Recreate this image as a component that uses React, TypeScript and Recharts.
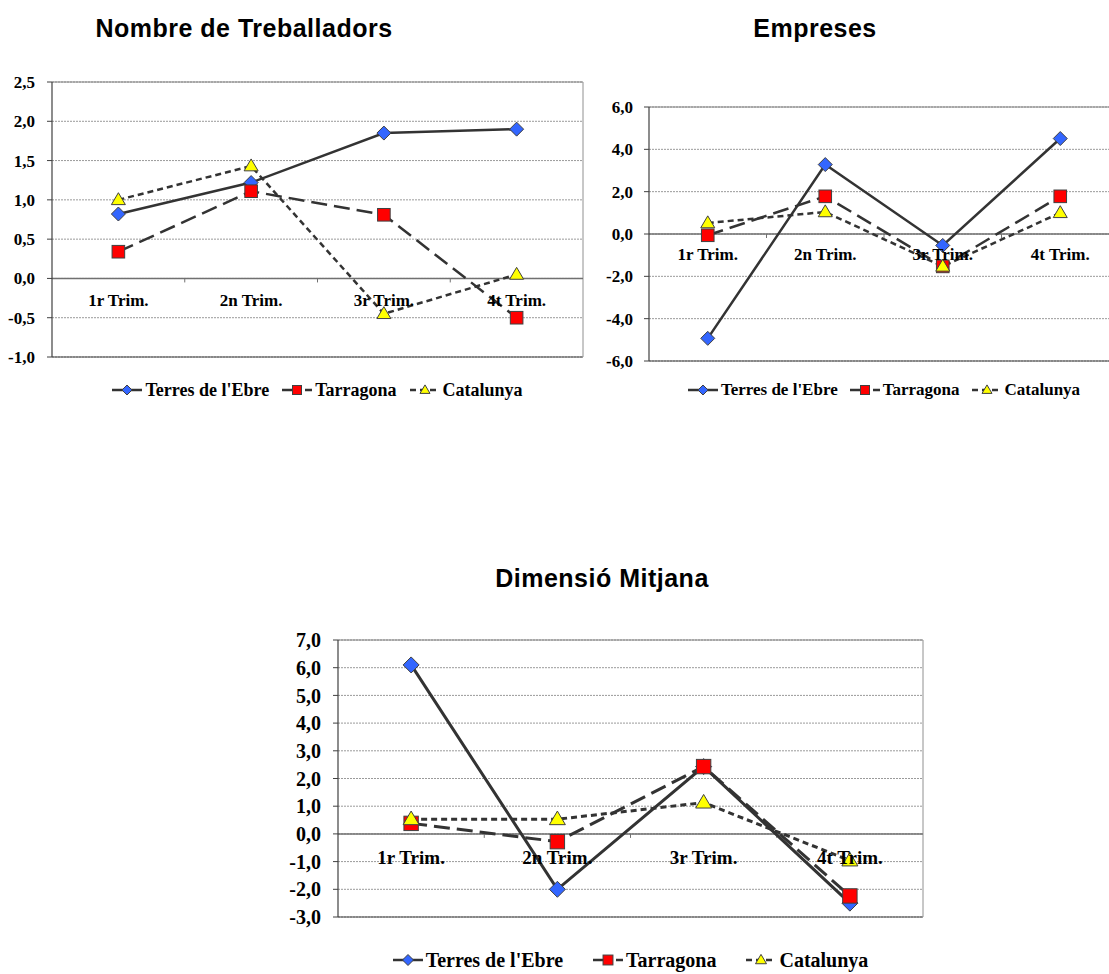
import React from 'react';
import { LineChart, Line, XAxis, YAxis, CartesianGrid, ReferenceLine, LabelList } from 'recharts';

const quarters = ['1r Trim.', '2n Trim.', '3r Trim.', '4t Trim.'];
const seriesNames = ["Terres de l'Ebre", 'Tarragona', 'Catalunya'];

const treballadorsTerres = [0.82, 1.22, 1.85, 1.9];
const treballadorsTarragona = [0.34, 1.11, 0.81, -0.5];
const treballadorsCatalunya = [1.0, 1.43, -0.45, 0.05];
const treballadorsTicks = [-1, -0.5, 0, 0.5, 1, 1.5, 2, 2.5];

const empresesTerres = [-4.93, 3.28, -0.54, 4.51];
const empresesTarragona = [-0.06, 1.78, -1.53, 1.78];
const empresesCatalunya = [0.52, 1.04, -1.53, 1.0];
const empresesTicks = [-6, -4, -2, 0, 2, 4, 6];

const dimensioTerres = [6.1, -2.0, 2.43, -2.5];
const dimensioTarragona = [0.38, -0.28, 2.43, -2.24];
const dimensioCatalunya = [0.53, 0.53, 1.13, -0.96];
const dimensioTicks = [-3, -2, -1, 0, 1, 2, 3, 4, 5, 6, 7];

const SERIF = "'Liberation Serif', 'Times New Roman', serif";
const SANS = "'Liberation Sans', Arial, sans-serif";
const LINE_COLOR = '#333333';
const MARK_STROKE = '#404040';

type Kind = 'diamond' | 'square' | 'triangle';

function Marker({ kind, cx, cy, s }: { kind: Kind; cx: number; cy: number; s: number }) {
  if (kind === 'diamond') {
    const r = s / 2;
    return (
      <polygon
        points={`${cx},${cy - r} ${cx + r},${cy} ${cx},${cy + r} ${cx - r},${cy}`}
        fill="#3366FF"
        stroke={MARK_STROKE}
        strokeWidth={1}
      />
    );
  }
  if (kind === 'square') {
    const h = s * 0.9;
    return <rect x={cx - h / 2} y={cy - h / 2} width={h} height={h} fill="#FF0000" stroke={MARK_STROKE} strokeWidth={1} />;
  }
  const w = s;
  const h = s * 0.85;
  return (
    <polygon
      points={`${cx},${cy - h * 0.6} ${cx + w / 2},${cy + h * 0.4} ${cx - w / 2},${cy + h * 0.4}`}
      fill="#FFFF00"
      stroke={MARK_STROKE}
      strokeWidth={1}
    />
  );
}

const makeDot = (kind: Kind, s: number) => (props: any) => {
  const { cx, cy, index } = props;
  if (cx == null || cy == null) return <g key={`${kind}-${index}`} />;
  return (
    <g key={`${kind}-${index}`}>
      <Marker kind={kind} cx={cx} cy={cy} s={s} />
    </g>
  );
};

const styles: { kind: Kind; dash?: string }[] = [
  { kind: 'diamond' },
  { kind: 'square', dash: '16 7' },
  { kind: 'triangle', dash: '6 4' },
];

function LegendRow({ left, top, width, fontSize, gap, markSize }: any) {
  return (
    <div
      style={{
        position: 'absolute',
        left,
        top,
        width,
        display: 'flex',
        justifyContent: 'center',
        alignItems: 'center',
        fontFamily: SERIF,
        fontWeight: 'bold',
        fontSize,
        color: '#000',
        whiteSpace: 'nowrap',
        lineHeight: 1,
      }}
    >
      {seriesNames.map((n, i) => (
        <div key={n} style={{ display: 'flex', alignItems: 'center', marginLeft: i === 0 ? 0 : gap }}>
          <svg width={30} height={16} style={{ display: 'block' }}>
            <line x1={0} y1={8} x2={30} y2={8} stroke={LINE_COLOR} strokeWidth={2.5} strokeDasharray={styles[i].dash} />
            <Marker kind={styles[i].kind} cx={15} cy={8} s={markSize} />
          </svg>
          <span style={{ marginLeft: 3 }}>{n}</span>
        </div>
      ))}
    </div>
  );
}

const fmt = (v: number) => v.toFixed(1).replace('.', ',');

function Panel(p: any) {
  const data = quarters.map((q, i) => ({
    q,
    x: i + 0.5,
    zero: 0,
    terres: p.a[i],
    tarragona: p.b[i],
    catalunya: p.c[i],
  }));
  const [lo, hi] = p.domain;
  const plotH = p.height - p.margin.top - p.margin.bottom;
  const tickDepth = ((hi - lo) * 4) / plotH;
  const keys = ['terres', 'tarragona', 'catalunya'];
  return (
    <div style={{ position: 'absolute', left: p.left, top: p.top }}>
      <LineChart width={p.width} height={p.height} data={data} margin={p.margin}>
        <CartesianGrid horizontal vertical={false} stroke="#9a9a9a" strokeDasharray="2 1" />
        <XAxis type="number" dataKey="x" domain={[0, 4]} hide />
        <YAxis
          type="number"
          domain={p.domain}
          ticks={p.ticks}
          interval={0}
          width={p.yWidth}
          tickFormatter={fmt}
          tickLine={{ stroke: '#404040' }}
          tickSize={5}
          tickMargin={p.tickMargin}
          axisLine={{ stroke: '#404040', strokeWidth: 1.2 }}
          tick={{ fill: '#000', fontFamily: SERIF, fontWeight: 'bold', fontSize: p.tickFont }}
        />
        <ReferenceLine y={hi} stroke="#808080" strokeWidth={1} />
        <ReferenceLine y={lo} stroke="#404040" strokeWidth={1.2} />
        <ReferenceLine x={4} stroke="#909090" strokeWidth={1} />
        <ReferenceLine y={0} stroke="#707070" strokeWidth={1.5} />
        {[1, 2, 3].map((b) => (
          <ReferenceLine
            key={`t${b}`}
            segment={[
              { x: b, y: 0 },
              { x: b, y: -tickDepth },
            ]}
            stroke="#707070"
            strokeWidth={1}
          />
        ))}
        <Line dataKey="zero" stroke="none" dot={false} activeDot={false} isAnimationActive={false} legendType="none">
          <LabelList
            dataKey="q"
            position="bottom"
            offset={p.catOffset}
            fill="#000"
            fontFamily={SERIF}
            fontWeight="bold"
            fontSize={p.catFont}
          />
        </Line>
        {keys.map((k, i) => (
          <Line
            key={k}
            dataKey={k}
            type="linear"
            stroke={LINE_COLOR}
            strokeWidth={p.lineWidth}
            strokeDasharray={styles[i].dash}
            dot={makeDot(styles[i].kind, p.mark)}
            activeDot={false}
            isAnimationActive={false}
          />
        ))}
      </LineChart>
    </div>
  );
}

function Title({ text, cx, cy }: { text: string; cx: number; cy: number }) {
  return (
    <div
      style={{
        position: 'absolute',
        left: cx - 200,
        top: cy - 13,
        width: 400,
        textAlign: 'center',
        fontFamily: SANS,
        fontWeight: 'bold',
        fontSize: 25,
        lineHeight: '26px',
        letterSpacing: 0.5,
        color: '#000',
      }}
    >
      {text}
    </div>
  );
}

export default function App() {
  return (
    <div
      style={{
        position: 'absolute',
        left: 0,
        top: 0,
        width: 1109,
        height: 974,
        overflow: 'hidden',
        background: '#fff',
      }}
    >
      <Title text="Nombre de Treballadors" cx={244} cy={28} />
      <Title text="Empreses" cx={815} cy={28} />
      <Title text="Dimensió Mitjana" cx={602} cy={578} />

      <Panel
        left={0}
        top={60}
        width={590}
        height={310}
        margin={{ top: 22, right: 7, left: 0, bottom: 13 }}
        yWidth={52}
        domain={[-1, 2.5]}
        ticks={treballadorsTicks}
        tickMargin={12}
        tickFont={17}
        catFont={17}
        catOffset={16}
        lineWidth={2.5}
        mark={14}
        a={treballadorsTerres}
        b={treballadorsTarragona}
        c={treballadorsCatalunya}
      />
      <LegendRow left={52} top={381} width={531} fontSize={18} gap={13} markSize={10} />

      <Panel
        left={597}
        top={90}
        width={522}
        height={284}
        margin={{ top: 17, right: 0, left: 0, bottom: 13 }}
        yWidth={52}
        domain={[-6, 6]}
        ticks={empresesTicks}
        tickMargin={11}
        tickFont={17}
        catFont={17}
        catOffset={14}
        lineWidth={2.5}
        mark={14}
        a={empresesTerres}
        b={empresesTarragona}
        c={empresesCatalunya}
      />
      <LegendRow left={649} top={381} width={470} fontSize={17} gap={12} markSize={10} />

      <Panel
        left={280}
        top={615}
        width={648}
        height={317}
        margin={{ top: 25, right: 5, left: 0, bottom: 15 }}
        yWidth={58}
        domain={[-3, 7]}
        ticks={dimensioTicks}
        tickMargin={12}
        tickFont={20}
        catFont={19}
        catOffset={17}
        lineWidth={3}
        mark={16}
        a={dimensioTerres}
        b={dimensioTarragona}
        c={dimensioCatalunya}
      />
      <LegendRow left={338} top={950} width={585} fontSize={20} gap={30} markSize={11} />
    </div>
  );
}
